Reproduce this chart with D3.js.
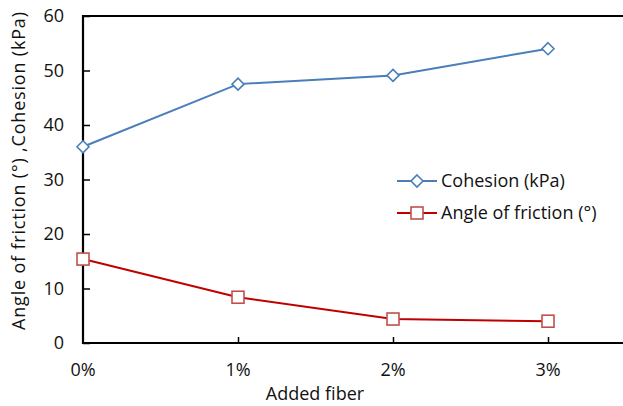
<!DOCTYPE html>
<html><head><meta charset="utf-8">
<script src="https://cdn.jsdelivr.net/npm/d3@7"></script>
<style>body{margin:0;background:#fff}svg{display:block}text{font-family:"Open Sans",Lato,sans-serif;fill:#111}</style>
</head><body><svg id="c" width="623" height="406"></svg>
<script>
const categories = ["0%","1%","2%","3%"];
const cohesion = [36, 47.5, 49.1, 54];
const friction = [15.4, 8.4, 4.4, 4.0];
const yTicks = [0,10,20,30,40,50,60];
const seriesNames = ["Cohesion (kPa)","Angle of friction (°)"];

const svg = d3.select("#c");
const L = 83, T = 16, B = 343;
const FS = 18;
const x = d3.scaleLinear().domain([0,3]).range([L, 548]);
const y = d3.scaleLinear().domain([0,60]).range([B, T]);
const blue = "#4A7EBB", red = "#C00000", redMk = "#C0504D";

svg.append("line").attr("x1",L).attr("x2",623).attr("y1",T).attr("y2",T).attr("stroke","#000").attr("stroke-width",2);
const yAxis = svg.append("g").attr("transform",`translate(${L},0)`)
  .call(d3.axisRight(y).tickValues(yTicks).tickSize(7).tickFormat(""));
yAxis.select(".domain").remove();
yAxis.selectAll("line").attr("stroke","#000").attr("stroke-width",1.5);
svg.append("line").attr("x1",L).attr("x2",L).attr("y1",T-1).attr("y2",B+1).attr("stroke","#000").attr("stroke-width",2.2);
yTicks.forEach(v=>svg.append("text").attr("x",64).attr("y",y(v)).attr("dy","0.35em").attr("text-anchor","end").attr("font-size",FS).text(v));

const xAxis = svg.append("g").attr("transform",`translate(0,${B})`)
  .call(d3.axisTop(x).tickValues([1,2,3]).tickSize(6).tickFormat(""));
xAxis.select(".domain").remove();
xAxis.selectAll("line").attr("stroke","#000").attr("stroke-width",1.5);
svg.append("line").attr("x1",L-1).attr("x2",623).attr("y1",B).attr("y2",B).attr("stroke","#000").attr("stroke-width",2.2);
categories.forEach((c,i)=>svg.append("text").attr("x",x(i)).attr("y",370).attr("dy","0.35em").attr("text-anchor","middle").attr("font-size",FS).text(c));

svg.append("text").attr("x",315).attr("y",394).attr("dy","0.35em").attr("text-anchor","middle").attr("font-size",FS).text("Added fiber");
svg.append("text").attr("transform","translate(19,171) rotate(-90)").attr("dy","0.35em").attr("text-anchor","middle").attr("font-size",FS)
  .attr("textLength",318).attr("lengthAdjust","spacing").text("Angle of friction (°) ,Cohesion (kPa)");

const line = d3.line().x((d,i)=>x(i)).y(d=>y(d));
svg.append("path").datum(cohesion).attr("d",line).attr("fill","none").attr("stroke",blue).attr("stroke-width",2);
svg.append("path").datum(friction).attr("d",line).attr("fill","none").attr("stroke",red).attr("stroke-width",2);

function diamond(g, cx, cy){ g.append("path").attr("d",`M${cx},${cy-6}L${cx+6},${cy}L${cx},${cy+6}L${cx-6},${cy}Z`).attr("fill","#fff").attr("stroke",blue).attr("stroke-width",1.6); }
function square(g, cx, cy){ g.append("rect").attr("x",cx-6).attr("y",cy-6).attr("width",12).attr("height",12).attr("fill","#fff").attr("stroke",redMk).attr("stroke-width",1.6); }
cohesion.forEach((v,i)=>diamond(svg, x(i), y(v)));
friction.forEach((v,i)=>square(svg, x(i), y(v)));

const ly = [181, 213];
svg.append("line").attr("x1",397).attr("x2",437).attr("y1",ly[0]).attr("y2",ly[0]).attr("stroke",blue).attr("stroke-width",2);
diamond(svg, 417, ly[0]);
svg.append("line").attr("x1",397).attr("x2",437).attr("y1",ly[1]).attr("y2",ly[1]).attr("stroke",red).attr("stroke-width",2);
square(svg, 417, ly[1]);
seriesNames.forEach((n,i)=>svg.append("text").attr("x",441).attr("y",ly[i]).attr("dy","0.35em").attr("font-size",FS).text(n));
</script></body></html>
